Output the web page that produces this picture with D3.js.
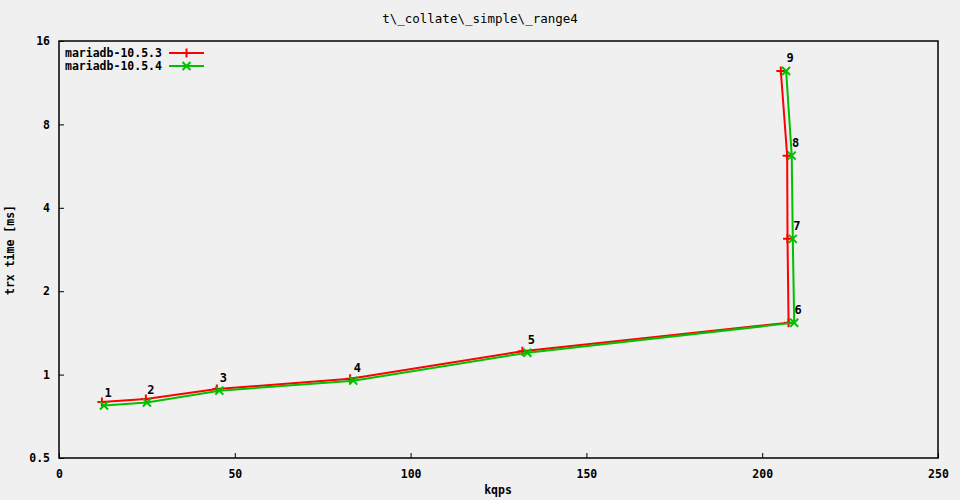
<!DOCTYPE html>
<html>
<head>
<meta charset="utf-8">
<script src="https://cdn.jsdelivr.net/npm/d3@7"></script>
<style>
  body { margin: 0; background: #f0f0f0; }
  svg text { font-family: "DejaVu Sans Mono", "Liberation Mono", monospace; font-size: 11.5px; font-weight: bold; fill: #000; }
</style>
</head>
<body>
<svg id="chart" width="960" height="500"></svg>
<script>
var labels = ["1", "2", "3", "4", "5", "6", "7", "8", "9"];
var kqps_1053 = [12.2, 24.7, 44.9, 82.8, 131.8, 207.5, 207.2, 207.1, 205.3];
var time_1053 = [0.796, 0.816, 0.887, 0.967, 1.214, 1.539, 3.09, 6.17, 12.47];
var kqps_1054 = [12.8, 25.0, 45.6, 83.7, 133.2, 209.1, 208.7, 208.4, 206.8];
var time_1054 = [0.773, 0.793, 0.875, 0.951, 1.199, 1.539, 3.09, 6.17, 12.47];
var xTicks = [0, 50, 100, 150, 200, 250];
var yTicks = [0.5, 1, 2, 4, 8, 16];

var series = [
    {name: "mariadb-10.5.3", color: "#ff0000", marker: "plus", xs: kqps_1053, ys: time_1053},
    {name: "mariadb-10.5.4", color: "#00c000", marker: "cross", xs: kqps_1054, ys: time_1054}
];

var svg = d3.select("#chart");
var margin = {left: 59, top: 41, right: 22, bottom: 42};
var width = +svg.attr("width") - margin.left - margin.right,
    height = +svg.attr("height") - margin.top - margin.bottom;

svg.append("rect").attr("width", 960).attr("height", 500).attr("fill", "#f0f0f0");

var g = svg.append("g").attr("transform", "translate(" + margin.left + "," + margin.top + ")");

var x = d3.scaleLinear().domain([0, 250]).range([0, width]);
var y = d3.scaleLog().base(2).domain([0.5, 16]).range([height, 0]);

// axes with inward ticks
var xAxis = g.append("g")
    .attr("transform", "translate(0," + height + ")")
    .call(d3.axisBottom(x).tickValues(xTicks).tickSize(-5).tickPadding(12).tickFormat(d3.format("d")));
var yAxis = g.append("g")
    .call(d3.axisLeft(y).tickValues(yTicks).tickSize(-5).tickPadding(9).tickFormat(function(d){ return String(d); }));
[xAxis, yAxis].forEach(function(a){
    a.select(".domain").remove();
    a.selectAll("line").attr("stroke", "#000");
    a.attr("font-size", null).attr("font-family", null);
});

g.append("rect")
    .attr("width", width).attr("height", height)
    .attr("fill", "none").attr("stroke", "#000").attr("stroke-width", 1.5);

var line = d3.line()
    .x(function(d){ return x(d[0]); })
    .y(function(d){ return y(d[1]); });

function drawMarker(sel, type, color, cx, cy){
    var s = 4.5;
    if (type == "plus") {
        sel.append("path")
            .attr("d", "M" + (cx - s) + "," + cy + "H" + (cx + s) + "M" + cx + "," + (cy - s) + "V" + (cy + s))
            .attr("stroke", color).attr("stroke-width", 2).attr("fill", "none");
    } else {
        s = 4;
        sel.append("path")
            .attr("d", "M" + (cx - s) + "," + (cy - s) + "L" + (cx + s) + "," + (cy + s) + "M" + (cx - s) + "," + (cy + s) + "L" + (cx + s) + "," + (cy - s))
            .attr("stroke", color).attr("stroke-width", 2).attr("fill", "none");
    }
}

series.forEach(function(s){
    var pts = s.xs.map(function(v, i){ return [v, s.ys[i]]; });
    g.append("path")
        .datum(pts)
        .attr("d", line)
        .attr("fill", "none")
        .attr("stroke", s.color)
        .attr("stroke-width", 2);
    var mg = g.append("g");
    pts.forEach(function(p){ drawMarker(mg, s.marker, s.color, x(p[0]), y(p[1])); });
});

// point labels
labels.forEach(function(l, i){
    g.append("text")
        .attr("x", x(kqps_1054[i]) + 4)
        .attr("y", y(time_1054[i]) - 9)
        .attr("text-anchor", "middle")
        .style("font-size", "12px")
        .text(l);
});

// legend
series.forEach(function(s, i){
    var ly = 12 + i * 13;
    g.append("text").attr("x", 6).attr("y", ly).attr("dy", "0.35em").text(s.name);
    g.append("line")
        .attr("x1", 110).attr("x2", 145).attr("y1", ly).attr("y2", ly)
        .attr("stroke", s.color).attr("stroke-width", 2);
    drawMarker(g, s.marker, s.color, 127.5, ly);
});

// titles
svg.append("text").attr("x", 480).attr("y", 23).attr("text-anchor", "middle")
    .style("font-weight", "normal").style("font-size", "12.5px")
    .text("t\\_collate\\_simple\\_range4");
svg.append("text").attr("x", 498).attr("y", 494).attr("text-anchor", "middle").text("kqps");
svg.append("text")
    .attr("transform", "translate(14,250) rotate(-90)")
    .attr("text-anchor", "middle")
    .text("trx time [ms]");
</script>
</body>
</html>
